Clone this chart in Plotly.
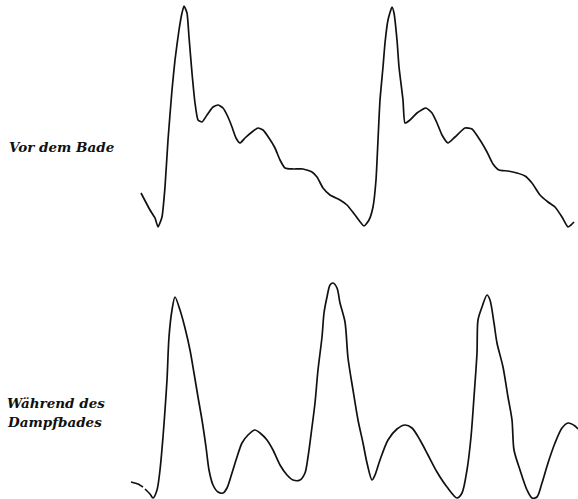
import plotly.graph_objects as go

# Pulse trace before the bath (horizontal position, vertical deflection; y grows downward)
before_x = [141, 150, 155, 158, 162, 165, 168, 172, 175, 179, 182, 184, 187, 189, 192, 195, 198,
            202, 207, 213, 218, 223, 228, 232, 236, 240, 245, 252, 258, 263, 269, 275, 280, 285,
            293, 303, 312, 317, 323, 330, 340, 347, 355, 364, 369, 373, 376, 378, 380, 383, 385,
            388, 392, 394, 397, 399, 403, 405, 410, 417, 426, 432, 437, 442, 448, 455, 465, 472,
            480, 487, 493, 499, 508, 517, 525, 532, 540, 548, 555, 562, 568, 571, 574]
before_y = [193, 210, 218, 227, 217, 187, 140, 90, 60, 30, 13, 6, 13, 37, 73, 103, 120,
            122, 115, 107, 105, 108, 117, 127, 138, 143, 138, 132, 128, 130, 138, 148, 160, 168,
            169, 169, 172, 177, 188, 195, 200, 205, 215, 226, 220, 207, 180, 140, 100, 67, 43,
            20, 7, 13, 40, 67, 100, 123, 120, 113, 108, 113, 123, 135, 143, 137, 128, 129,
            140, 152, 164, 170, 171, 173, 176, 183, 195, 202, 207, 217, 227, 225, 222]

# Short lead-in stroke of the second trace
lead_x = [131, 138, 143]
lead_y = [482, 484, 487]

# Pulse trace during the steam bath
during_x = [145, 150, 153, 157, 160, 163, 165, 167, 169, 172, 175, 180, 185, 190, 194, 198, 202,
            206, 209, 213, 218, 223, 227, 232, 237, 242, 248, 255, 260, 267, 273, 280, 287, 293,
            300, 305, 308, 312, 315, 318, 322, 324, 327, 330, 333, 337, 340, 345, 348, 353, 358,
            363, 367, 372, 375, 380, 388, 397, 405, 412, 420, 428, 437, 447, 457, 462, 467, 471,
            474, 477, 478, 482, 487, 490, 494, 497, 503, 508, 512, 514, 520, 527, 532, 537, 542,
            548, 555, 562, 568, 575, 578]
during_y = [489, 494, 498, 490, 470, 437, 410, 380, 337, 310, 297, 310, 328, 350, 373, 397, 420,
            447, 470, 485, 492, 493, 488, 473, 457, 443, 435, 430, 433, 440, 450, 465, 475, 480,
            480, 473, 457, 427, 403, 370, 337, 313, 297, 285, 283, 288, 303, 322, 358, 390, 420,
            443, 463, 480, 475, 460, 440, 429, 425, 428, 440, 455, 472, 487, 498, 493, 470, 437,
            397, 353, 320, 307, 295, 300, 323, 343, 367, 397, 420, 450, 470, 490, 498, 497, 483,
            463, 443, 428, 423, 426, 429]

label_before = "Vor dem Bade"
label_during = ["Während des", "Dampfbades"]

ink = "#111111"

fig = go.Figure()
traces = [(before_x, before_y, 0.5), (lead_x, lead_y, 0.5), (during_x, during_y, 0.8)]
for xs, ys, smooth in traces:
    fig.add_trace(go.Scatter(x=xs, y=ys, mode="lines",
                             line=dict(color=ink, width=1.7, shape="spline", smoothing=smooth),
                             hoverinfo="skip", showlegend=False))

label_font = dict(family="DejaVu Serif, Liberation Serif, serif", size=13.5, color=ink,
                  style="italic", weight="bold")
fig.add_annotation(x=7, y=147, text=label_before, showarrow=False, xanchor="left",
                   yanchor="middle", font=label_font)
for text, ypos in zip(label_during, [403, 422]):
    fig.add_annotation(x=5, y=ypos, text=text, showarrow=False, xanchor="left",
                       yanchor="middle", font=label_font)

fig.update_xaxes(range=[0, 578], visible=False, fixedrange=True)
fig.update_yaxes(range=[499, 0], visible=False, fixedrange=True)
fig.update_layout(width=578, height=499, margin=dict(l=0, r=0, t=0, b=0),
                  paper_bgcolor="white", plot_bgcolor="white")

fig.write_html("out.html")
